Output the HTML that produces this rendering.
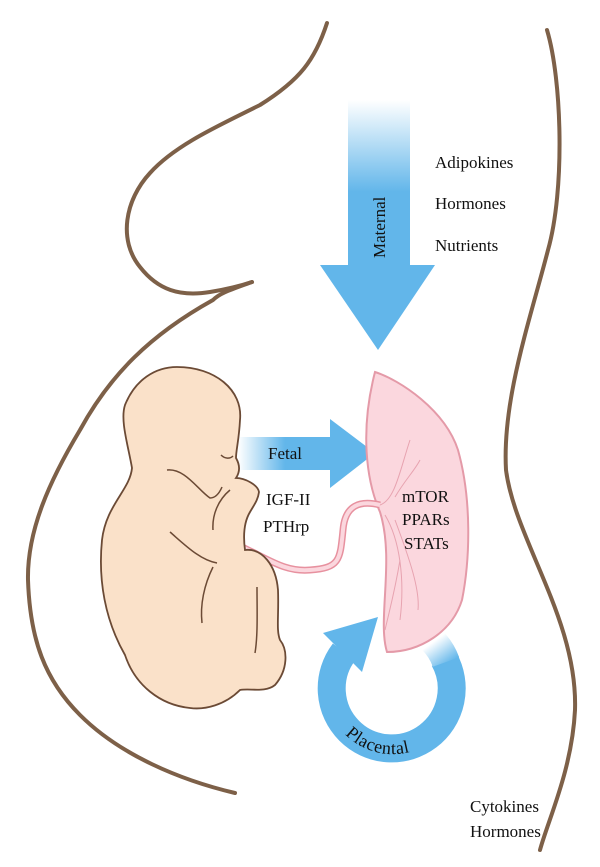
<!DOCTYPE html>
<html><head><style>html,body{margin:0;padding:0;background:#fff}svg{display:block}</style></head>
<body>
<svg width="600" height="867" viewBox="0 0 600 867" xmlns="http://www.w3.org/2000/svg" font-family="'Liberation Serif',serif" font-size="17" fill="#111">
<defs>
<linearGradient id="gm" x1="0" y1="0" x2="0" y2="1"><stop offset="0" stop-color="#fff"/><stop offset="0.55" stop-color="#62b6ea"/></linearGradient>
<linearGradient id="gf" x1="0" y1="0" x2="1" y2="0"><stop offset="0" stop-color="#fff"/><stop offset="0.5" stop-color="#62b6ea"/></linearGradient>
<linearGradient id="gp" gradientUnits="userSpaceOnUse" x1="449" y1="664" x2="433" y2="642"><stop offset="0" stop-color="#62b6ea"/><stop offset="1" stop-color="#fff"/></linearGradient>
</defs>
<g fill="none" stroke="#7d6048" stroke-width="4" stroke-linecap="round">
<path d="M327,23 C315,60 300,80 260,105 C220,125 175,145 150,173 C125,200 118,240 140,267 C158,290 180,297 210,292 C228,289 240,286 252,282"/>
<path d="M252,282 C230,290 220,293 213,300 C150,335 110,375 80,430 C50,480 27,530 28,580 C30,640 45,680 80,715 C120,755 180,780 235,793"/>
<path d="M547,30 C562,80 565,190 548,250 C530,320 502,400 506,470 C515,540 578,620 575,710 C572,770 548,820 540,850"/>
</g>
<rect x="348" y="100" width="62" height="167" fill="url(#gm)"/>
<polygon points="320,265 435,265 378,350" fill="#62b6ea"/>
<text transform="translate(385,258) rotate(-90)">Maternal</text>
<text x="435" y="168">Adipokines</text>
<text x="435" y="209">Hormones</text>
<text x="435" y="251">Nutrients</text>
<rect x="238" y="437" width="94" height="33" fill="url(#gf)"/>
<polygon points="330,419 375,453 330,488" fill="#62b6ea"/>
<text x="268" y="459">Fetal</text>
<path d="M444,659 A60,60 0 1 1 344,652" fill="none" stroke="#62b6ea" stroke-width="28"/>
<path d="M432,640 A60,60 0 0 1 446,662" fill="none" stroke="url(#gp)" stroke-width="28"/>
<polygon points="323,633 378,617 362,672" fill="#62b6ea"/>
<path d="M375,372 C400,380 445,410 458,450 C472,500 470,560 462,600 C452,632 420,652 387,652 C377,620 395,560 380,512 C366,480 360,430 375,372 Z" fill="#fbd7de" stroke="#e49aa8" stroke-width="2"/>
<g fill="none" stroke="#e7a3b0" stroke-width="1">
<path d="M380,505 C395,500 400,470 410,440 M395,497 C405,480 415,470 420,460 M385,515 C400,540 405,580 400,620 M395,520 C410,560 420,590 418,610 M400,560 C395,590 392,600 385,630"/>
</g>
<path d="M242,547 C270,560 285,572 310,570 C340,568 340,560 343,530 C345,505 360,500 380,505" fill="none" stroke="#e7919f" stroke-width="7"/>
<path d="M242,547 C270,560 285,572 310,570 C340,568 340,560 343,530 C345,505 360,500 380,505" fill="none" stroke="#fbd7de" stroke-width="4"/>
<path d="M177,367 C215,367 243,390 240,420 C239,440 236,450 236,458 C240,465 240,472 236,478 C245,478 258,485 259,492 C258,500 254,505 250,512 C244,522 243,535 245,550 C262,548 276,565 278,590 C279,615 276,630 280,640 C288,650 288,670 275,685 C265,693 250,688 240,690 C225,705 205,710 190,708 C160,705 135,685 125,655 C105,620 98,580 102,540 C106,505 130,490 132,468 C128,445 120,420 125,405 C135,380 155,367 177,367 Z" fill="#fae1c9" stroke="#6b4a35" stroke-width="1.8"/>
<g fill="none" stroke="#6b4a35" stroke-width="1.5">
<path d="M221,455 C225,459 230,459 233,456"/>
<path d="M167,470 C185,468 198,490 210,498 C215,498 219,494 222,487"/>
<path d="M230,490 C218,500 212,515 213,530"/>
<path d="M170,532 C185,545 200,560 217,563"/>
<path d="M213,567 C204,585 200,605 202,623"/>
<path d="M257,587 C257,610 258,635 255,653"/>
</g>
<text x="266" y="505">IGF-II</text>
<text x="263" y="532">PTHrp</text>
<text x="402" y="502">mTOR</text>
<text x="402" y="525">PPARs</text>
<text x="404" y="549">STATs</text>
<path id="tp" d="M341,730 A68,68 0 0 0 457,709" fill="none"/>
<text font-size="18" letter-spacing="0.5"><textPath href="#tp" startOffset="6">Placental</textPath></text>
<text x="470" y="812">Cytokines</text>
<text x="470" y="837">Hormones</text>
</svg>
</body></html>
